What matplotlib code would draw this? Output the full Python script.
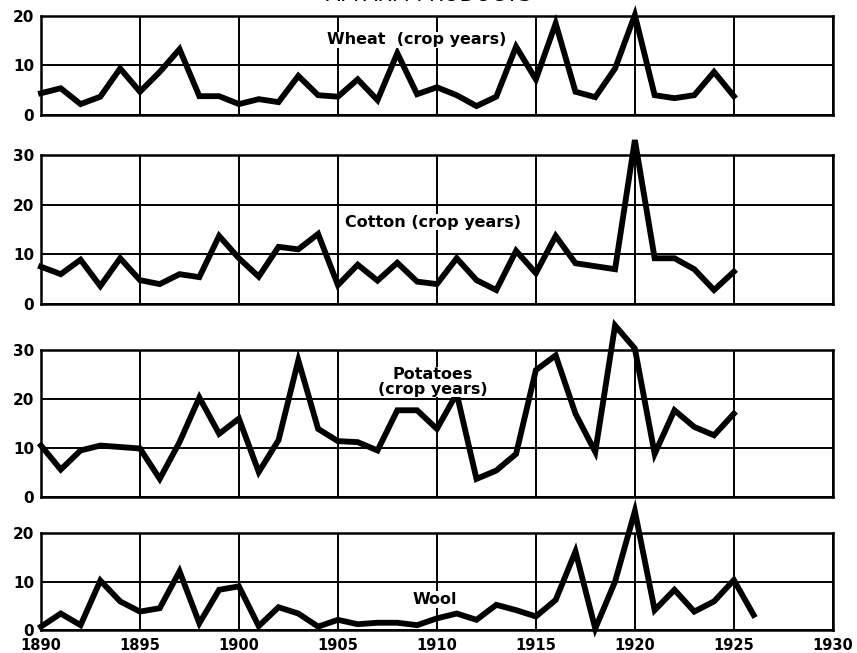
import matplotlib.pyplot as plt

years = list(range(1890, 1926))
wool_years = list(range(1890, 1927))

wheat = [4.4, 5.4, 2.2, 3.7, 9.4, 4.7, 8.7, 13.3, 3.8, 3.8,
         2.2, 3.2, 2.6, 7.9, 4.0, 3.7, 7.2, 3.0, 12.5, 4.2,
         5.6, 4.0, 1.8, 3.7, 13.8, 7.2, 18.5, 4.7, 3.6, 9.4,
         20.2, 4.0, 3.4, 4.0, 8.7, 3.8]

cotton = [7.5, 6.0, 8.9, 3.6, 9.2, 4.8, 4.0, 6.0, 5.4, 13.7,
          9.2, 5.5, 11.5, 11.0, 14.1, 3.8, 7.9, 4.7, 8.3, 4.5,
          4.0, 9.2, 4.8, 2.8, 10.7, 6.2, 13.7, 8.2, 7.6, 7.0,
          33.0, 9.2, 9.2, 7.0, 2.8, 6.5]

potatoes = [10.5, 5.6, 9.5, 10.5, 10.2, 9.9, 3.7, 11.2, 20.3, 12.9,
            16.0, 5.1, 11.6, 27.9, 13.9, 11.4, 11.2, 9.5, 17.7, 17.7,
            13.9, 21.1, 3.7, 5.4, 8.8, 25.9, 28.9, 17.0, 9.2, 35.0,
            30.3, 8.8, 17.7, 14.3, 12.6, 17.0]

wool = [0.7, 3.4, 1.0, 10.2, 5.9, 3.8, 4.5, 12.1, 1.4, 8.3,
        9.0, 0.8, 4.7, 3.4, 0.7, 2.1, 1.2, 1.5, 1.5, 1.0,
        2.4, 3.4, 2.1, 5.2, 4.1, 2.8, 6.2, 16.2, 0.3, 10.0,
        24.5, 4.1, 8.3, 3.8, 5.9, 10.3, 3.1]

x_ticks = list(range(1890, 1931, 5))

panels = [
    # (x, y, ymax, label, label x, label y)
    (years, wheat, 20, "Wheat  (crop years)", 1909.0, 15.2),
    (years, cotton, 30, "Cotton (crop years)", 1909.8, 16.5),
    (years, potatoes, 30, "Potatoes\n(crop years)", 1909.8, 23.5),
    (wool_years, wool, 20, "Wool", 1909.9, 6.3),
]

# axes boxes in figure fractions
boxes = [
    [0.0478, 0.8239, 0.924, 0.1516],
    [0.0478, 0.5345, 0.924, 0.2282],
    [0.0478, 0.2389, 0.924, 0.2251],
    [0.0478, 0.0352, 0.924, 0.1485],
]

fig = plt.figure(figsize=(8.57, 6.53), dpi=100)

for i, (xs, ys, ymax, label, lx, ly) in enumerate(panels):
    ax = fig.add_axes(boxes[i])
    ax.plot(xs, ys, color='black', lw=4.2, solid_joinstyle='miter', clip_on=False, zorder=3)
    ax.set_xlim(1890, 1930)
    ax.set_ylim(0, ymax)
    ax.set_xticks(x_ticks)
    ax.set_yticks(range(0, ymax + 1, 10))
    ax.grid(True, color='black', lw=1.4)
    ax.tick_params(axis='y', length=0, pad=5)
    ax.tick_params(axis='x', length=0, pad=6)
    for s in ax.spines.values():
        s.set_linewidth(1.8)
    for t in ax.get_yticklabels():
        t.set_fontweight('bold')
        t.set_fontsize(11)
    if i < 3:
        ax.set_xticklabels([])
    else:
        for t in ax.get_xticklabels():
            t.set_fontweight('bold')
            t.set_fontsize(10.5)
    ax.text(lx, ly, label, ha='center', va='center', fontsize=11.5,
            fontweight='semibold', linespacing=0.95, zorder=4,
            bbox=dict(facecolor='white', edgecolor='none', pad=0.5))

# title sits mostly above the top edge, as in the scan
fig.text(0.5, 0.992, "A. FARM PRODUCTS", ha='center', va='bottom', fontsize=15)

fig.savefig('out.png', dpi=100)
